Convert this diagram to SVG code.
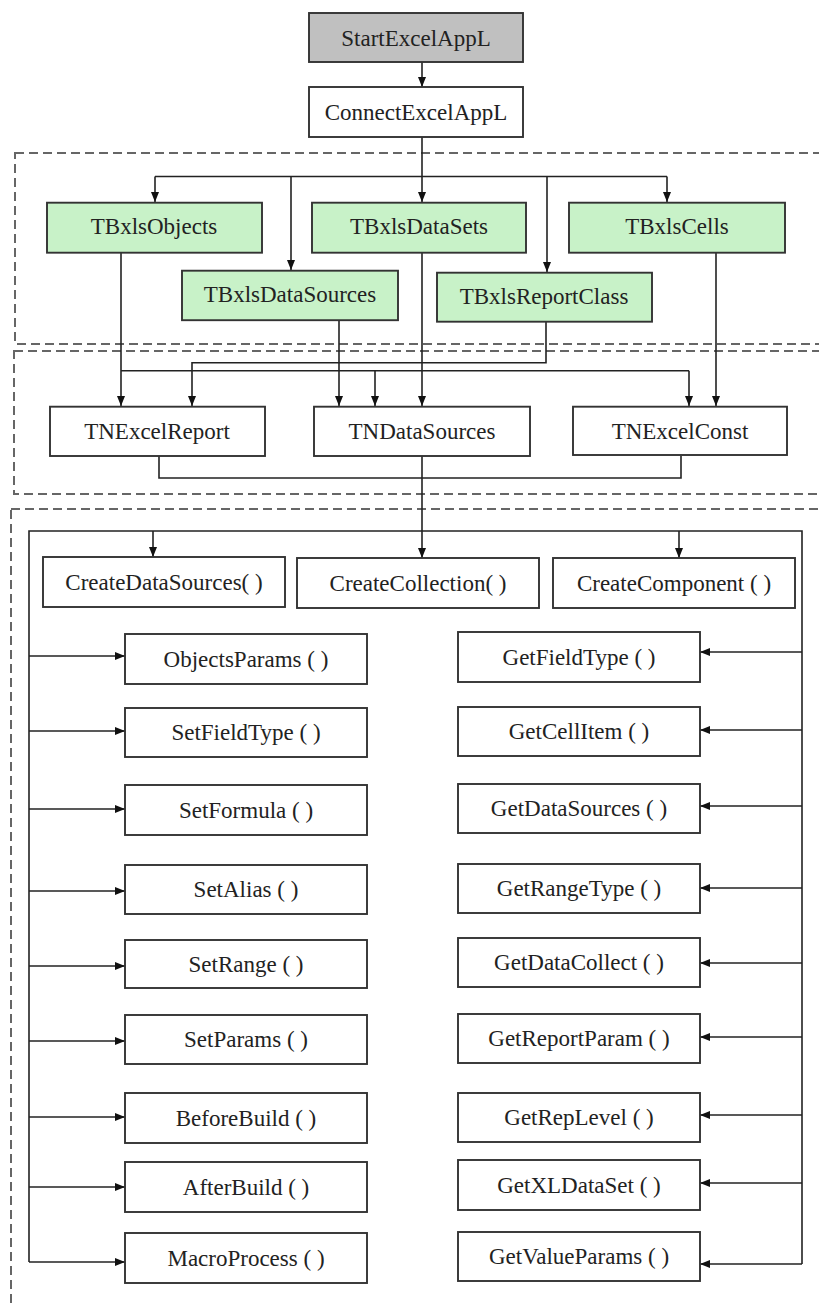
<svg xmlns="http://www.w3.org/2000/svg" width="819" height="1306" viewBox="0 0 819 1306">
<defs>
<marker id="ah" markerWidth="10" markerHeight="10" refX="10" refY="5" orient="auto" markerUnits="userSpaceOnUse">
<path d="M0,1 L10,5 L0,9 Z" fill="#111"/>
</marker>
<style>
.box{fill:#fff;stroke:#333;stroke-width:1.9}
.gray{fill:#c0c0c0}
.green{fill:#c8f2c8}
.t{font-family:'Liberation Serif','DejaVu Serif',serif;font-size:23px;fill:#222;text-anchor:middle}
.dash{fill:none;stroke:#666;stroke-width:2;stroke-dasharray:9,5}
.c{fill:none;stroke:#222;stroke-width:1.6}
.a{fill:none;stroke:#222;stroke-width:1.6;marker-end:url(#ah)}
</style>
</defs>
<rect width="819" height="1306" fill="#fff"/>
<g id="sections">
<rect class="dash" x="15" y="153" width="820" height="191"/>
<rect class="dash" x="14" y="351" width="820" height="143"/>
<rect class="dash" x="11" y="509" width="830" height="820"/>
</g>
<g id="connectors">
<path class="a" d="M422,62 V87"/>
<path class="a" d="M422,137 V202"/>
<path class="c" d="M155,176.5 H667"/>
<path class="a" d="M155,176.5 V202"/>
<path class="a" d="M291,176.5 V270"/>
<path class="a" d="M547,176.5 V272"/>
<path class="a" d="M667,176.5 V202"/>
<path class="a" d="M121,253 V406"/>
<path class="c" d="M121,370.7 H689"/>
<path class="a" d="M375,370.7 V406"/>
<path class="a" d="M689,370.7 V406"/>
<path class="a" d="M546,322 V362.7 H192 V406"/>
<path class="a" d="M339,320 V406"/>
<path class="a" d="M422,253 V406"/>
<path class="a" d="M716,253 V406"/>
<path class="c" d="M159,456 V478 H681 V456"/>
<path class="a" d="M422,456 V558"/>
<path class="c" d="M29,1262 V531 H802 V1264"/>
<path class="a" d="M153,531 V557"/>
<path class="a" d="M679,531 V558"/>
<path class="a" d="M29,656 H125"/>
<path class="a" d="M29,731 H125"/>
<path class="a" d="M29,809 H125"/>
<path class="a" d="M29,891 H125"/>
<path class="a" d="M29,966 H125"/>
<path class="a" d="M29,1041 H125"/>
<path class="a" d="M29,1117 H125"/>
<path class="a" d="M29,1187 H125"/>
<path class="a" d="M29,1262 H125"/>
<path class="a" d="M802,652 H700"/>
<path class="a" d="M802,730 H700"/>
<path class="a" d="M802,806 H700"/>
<path class="a" d="M802,888 H700"/>
<path class="a" d="M802,963 H700"/>
<path class="a" d="M802,1037 H700"/>
<path class="a" d="M802,1115 H700"/>
<path class="a" d="M802,1183 H700"/>
<path class="a" d="M802,1264 H700"/>
</g>
<g id="StartExcelAppL"><rect class="box gray" x="309" y="13" width="214" height="49"/><text class="t" x="416" y="46">StartExcelAppL</text></g>
<g id="ConnectExcelAppL"><rect class="box" x="309" y="87" width="214" height="50"/><text class="t" x="416" y="120">ConnectExcelAppL</text></g>
<g id="TBxlsObjects"><rect class="box green" x="47" y="202.7" width="215" height="50"/><text class="t" x="154" y="234">TBxlsObjects</text></g>
<g id="TBxlsDataSets"><rect class="box green" x="312" y="202.7" width="214" height="50"/><text class="t" x="419" y="234">TBxlsDataSets</text></g>
<g id="TBxlsCells"><rect class="box green" x="569" y="202.7" width="216" height="50"/><text class="t" x="677" y="234">TBxlsCells</text></g>
<g id="TBxlsDataSources"><rect class="box green" x="182" y="270.7" width="216" height="49.5"/><text class="t" x="290" y="302">TBxlsDataSources</text></g>
<g id="TBxlsReportClass"><rect class="box green" x="437" y="272.7" width="215" height="49"/><text class="t" x="544" y="304">TBxlsReportClass</text></g>
<g id="TNExcelReport"><rect class="box" x="50" y="406.7" width="215" height="49.3"/><text class="t" x="157" y="439">TNExcelReport</text></g>
<g id="TNDataSources"><rect class="box" x="314" y="406.7" width="216" height="49.3"/><text class="t" x="422" y="439">TNDataSources</text></g>
<g id="TNExcelConst"><rect class="box" x="573" y="406.7" width="214" height="48.3"/><text class="t" x="680" y="439">TNExcelConst</text></g>
<g id="CreateDataSources"><rect class="box" x="43" y="557" width="242" height="50"/><text class="t" x="164" y="590">CreateDataSources( )</text></g>
<g id="CreateCollection"><rect class="box" x="297" y="558" width="242" height="50"/><text class="t" x="418" y="591">CreateCollection( )</text></g>
<g id="CreateComponent"><rect class="box" x="553" y="558" width="242" height="50"/><text class="t" x="674" y="591">CreateComponent ( )</text></g>
<g id="ObjectsParams"><rect class="box" x="125" y="634" width="242" height="50"/><text class="t" x="246" y="667">ObjectsParams ( )</text></g>
<g id="SetFieldType"><rect class="box" x="125" y="708" width="242" height="49"/><text class="t" x="246" y="740">SetFieldType ( )</text></g>
<g id="SetFormula"><rect class="box" x="125" y="785" width="242" height="50"/><text class="t" x="246" y="818">SetFormula ( )</text></g>
<g id="SetAlias"><rect class="box" x="125" y="865" width="242" height="49"/><text class="t" x="246" y="897">SetAlias ( )</text></g>
<g id="SetRange"><rect class="box" x="125" y="940" width="242" height="48"/><text class="t" x="246" y="972">SetRange ( )</text></g>
<g id="SetParams"><rect class="box" x="125" y="1015" width="242" height="49"/><text class="t" x="246" y="1047">SetParams ( )</text></g>
<g id="BeforeBuild"><rect class="box" x="125" y="1093" width="242" height="50"/><text class="t" x="246" y="1126">BeforeBuild ( )</text></g>
<g id="AfterBuild"><rect class="box" x="125" y="1162" width="242" height="50"/><text class="t" x="246" y="1195">AfterBuild ( )</text></g>
<g id="MacroProcess"><rect class="box" x="125" y="1233" width="242" height="50"/><text class="t" x="246" y="1266">MacroProcess ( )</text></g>
<g id="GetFieldType"><rect class="box" x="458" y="632" width="242" height="50"/><text class="t" x="579" y="665">GetFieldType ( )</text></g>
<g id="GetCellItem"><rect class="box" x="458" y="707" width="242" height="49"/><text class="t" x="579" y="739">GetCellItem ( )</text></g>
<g id="GetDataSources"><rect class="box" x="458" y="784" width="242" height="49"/><text class="t" x="579" y="816">GetDataSources ( )</text></g>
<g id="GetRangeType"><rect class="box" x="458" y="864" width="242" height="49"/><text class="t" x="579" y="896">GetRangeType ( )</text></g>
<g id="GetDataCollect"><rect class="box" x="458" y="938" width="242" height="49"/><text class="t" x="579" y="970">GetDataCollect ( )</text></g>
<g id="GetReportParam"><rect class="box" x="458" y="1014" width="242" height="49"/><text class="t" x="579" y="1046">GetReportParam ( )</text></g>
<g id="GetRepLevel"><rect class="box" x="458" y="1093" width="242" height="49"/><text class="t" x="579" y="1125">GetRepLevel ( )</text></g>
<g id="GetXLDataSet"><rect class="box" x="458" y="1160" width="242" height="50"/><text class="t" x="579" y="1193">GetXLDataSet ( )</text></g>
<g id="GetValueParams"><rect class="box" x="458" y="1232" width="242" height="49"/><text class="t" x="579" y="1264">GetValueParams ( )</text></g>
</svg>
